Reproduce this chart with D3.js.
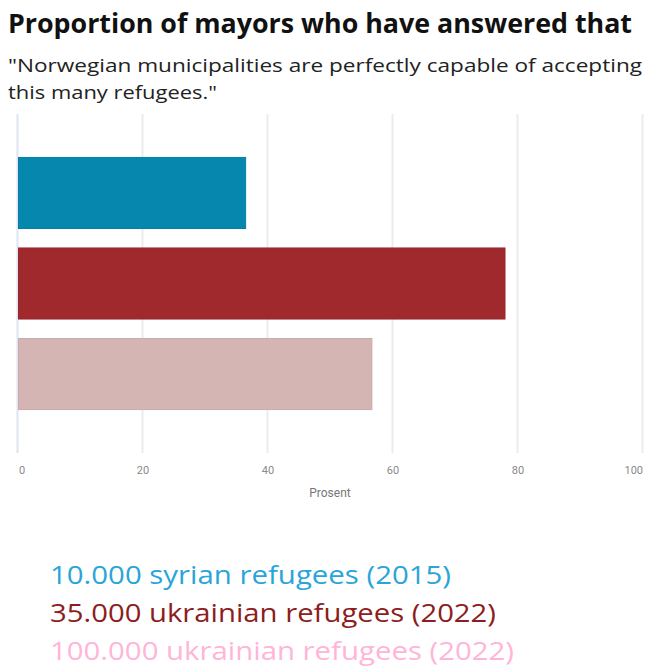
<!DOCTYPE html>
<html>
<head>
<meta charset="utf-8">
<script src="https://cdn.jsdelivr.net/npm/d3@7"></script>
<style>
  html, body { margin: 0; padding: 0; background: #fff; }
  svg { display: block; }
</style>
</head>
<body>
<svg id="chart" width="646" height="668"></svg>
<script>
const categories = ["10.000 syrian refugees (2015)", "35.000 ukrainian refugees (2022)", "100.000 ukrainian refugees (2022)"];
const values = [36.5, 78, 56.7];
const barColors = ["#0587ae", "#a0292e", "#d5b4b4"];
const legendColors = ["#2aa5d9", "#8c1d20", "#ffb5d8"];
const tickValues = [0, 20, 40, 60, 80, 100];
const titleText = "Proportion of mayors who have answered that";
const subtitleLines = ["\"Norwegian municipalities are perfectly capable of accepting", "this many refugees.\""];
const axisTitle = "Prosent";

const svg = d3.select("#chart");

const x = d3.scaleLinear().domain([0, 100]).range([17.5, 642.5]);
const y = d3.scaleBand().domain(categories).range([114, 453]).paddingInner(0.215).paddingOuter(0.48);

// title
svg.append("text")
  .attr("x", 8).attr("y", 33)
  .attr("font-family", "Open Sans, sans-serif")
  .attr("font-weight", 700)
  .attr("font-size", 26)
  .attr("fill", "#111")
  .attr("textLength", 624).attr("lengthAdjust", "spacingAndGlyphs")
  .text(titleText);

svg.selectAll("text.sub").data(subtitleLines).join("text")
  .attr("class", "sub")
  .attr("x", 8).attr("y", (d, i) => 72 + i * 27)
  .attr("font-family", "Open Sans, sans-serif")
  .attr("font-size", 19)
  .attr("fill", "#222")
  .attr("textLength", (d, i) => i === 0 ? 634 : 209)
  .attr("lengthAdjust", "spacingAndGlyphs")
  .text(d => d);

// gridlines
svg.append("g").selectAll("line").data(tickValues).join("line")
  .attr("x1", d => x(d)).attr("x2", d => x(d))
  .attr("y1", 114).attr("y2", 453)
  .attr("stroke", d => d === 0 ? "#dfe4f1" : "#ececf0")
  .attr("stroke-width", 2);

// bars
svg.append("g").selectAll("rect").data(values).join("rect")
  .attr("x", x(0) + 1)
  .attr("y", (d, i) => y(categories[i]))
  .attr("width", d => x(d) - x(0) - 1)
  .attr("height", y.bandwidth())
  .attr("fill", (d, i) => barColors[i])
  .attr("stroke", (d, i) => d3.color(barColors[i]).darker(0.15))
  .attr("stroke-width", 1);

// x axis labels
const axis = d3.axisBottom(x).tickValues(tickValues).tickSize(0).tickPadding(0);
const ag = svg.append("g").attr("transform", "translate(0,466)").call(axis);
ag.select(".domain").remove();
ag.selectAll("text")
  .attr("font-family", "Roboto, sans-serif")
  .attr("font-size", 11)
  .attr("fill", "#8a8a8a")
  .attr("text-anchor", d => d === 0 ? "start" : d === 100 ? "end" : "middle")
  .attr("dx", d => d === 0 ? 1 : 0);

svg.append("text")
  .attr("x", (x(0) + x(100)) / 2).attr("y", 497)
  .attr("text-anchor", "middle")
  .attr("font-family", "Roboto, sans-serif")
  .attr("font-size", 12)
  .attr("fill", "#777")
  .text(axisTitle);

// legend
const legendWidths = [401, 446, 464];
svg.selectAll("text.leg").data(categories).join("text")
  .attr("class", "leg")
  .attr("x", 50).attr("y", (d, i) => 584 + i * 38)
  .attr("font-family", "Open Sans, sans-serif")
  .attr("font-size", 25)
  .attr("fill", (d, i) => legendColors[i])
  .attr("textLength", (d, i) => legendWidths[i])
  .attr("lengthAdjust", "spacingAndGlyphs")
  .text(d => d);
</script>
</body>
</html>
